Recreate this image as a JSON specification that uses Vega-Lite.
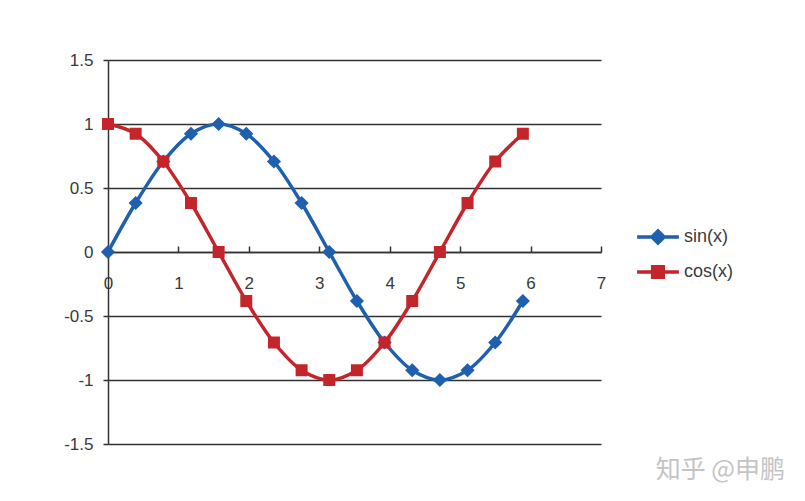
{
  "$schema": "https://vega.github.io/schema/vega-lite/v6.json",
  "width": 493,
  "height": 384,
  "autosize": {"type": "none"},
  "padding": {"left": 108, "top": 60, "right": 204, "bottom": 57},
  "background": "white",
  "title": {
    "text": "知乎 @申鹏",
    "orient": "bottom",
    "anchor": "end",
    "frame": "group",
    "font": "Noto Sans CJK SC",
    "fontSize": 25,
    "fontWeight": "normal",
    "color": "#c4c4c4",
    "dx": 184,
    "offset": 6
  },
  "config": {
    "view": {"stroke": null},
    "locale": {"number": {"decimal": ".", "thousands": ",", "grouping": [3], "currency": ["$", ""], "minus": "-"}},
    "font": "Liberation Sans"
  },
  "data": {
    "values": [
      {"x": 0, "y": 0, "s": "sin(x)"},
      {"x": 0.3927, "y": 0.3827, "s": "sin(x)"},
      {"x": 0.7854, "y": 0.7071, "s": "sin(x)"},
      {"x": 1.1781, "y": 0.9239, "s": "sin(x)"},
      {"x": 1.5708, "y": 1, "s": "sin(x)"},
      {"x": 1.9635, "y": 0.9239, "s": "sin(x)"},
      {"x": 2.3562, "y": 0.7071, "s": "sin(x)"},
      {"x": 2.7489, "y": 0.3827, "s": "sin(x)"},
      {"x": 3.1416, "y": 0, "s": "sin(x)"},
      {"x": 3.5343, "y": -0.3827, "s": "sin(x)"},
      {"x": 3.927, "y": -0.7071, "s": "sin(x)"},
      {"x": 4.3197, "y": -0.9239, "s": "sin(x)"},
      {"x": 4.7124, "y": -1, "s": "sin(x)"},
      {"x": 5.1051, "y": -0.9239, "s": "sin(x)"},
      {"x": 5.4978, "y": -0.7071, "s": "sin(x)"},
      {"x": 5.8905, "y": -0.3827, "s": "sin(x)"},
      {"x": 0, "y": 1, "s": "cos(x)"},
      {"x": 0.3927, "y": 0.9239, "s": "cos(x)"},
      {"x": 0.7854, "y": 0.7071, "s": "cos(x)"},
      {"x": 1.1781, "y": 0.3827, "s": "cos(x)"},
      {"x": 1.5708, "y": 0, "s": "cos(x)"},
      {"x": 1.9635, "y": -0.3827, "s": "cos(x)"},
      {"x": 2.3562, "y": -0.7071, "s": "cos(x)"},
      {"x": 2.7489, "y": -0.9239, "s": "cos(x)"},
      {"x": 3.1416, "y": -1, "s": "cos(x)"},
      {"x": 3.5343, "y": -0.9239, "s": "cos(x)"},
      {"x": 3.927, "y": -0.7071, "s": "cos(x)"},
      {"x": 4.3197, "y": -0.3827, "s": "cos(x)"},
      {"x": 4.7124, "y": 0, "s": "cos(x)"},
      {"x": 5.1051, "y": 0.3827, "s": "cos(x)"},
      {"x": 5.4978, "y": 0.7071, "s": "cos(x)"},
      {"x": 5.8905, "y": 0.9239, "s": "cos(x)"}
    ]
  },
  "encoding": {
    "x": {
      "field": "x", "type": "quantitative",
      "scale": {"domain": [0, 7], "nice": false, "zero": false},
      "axis": {
        "title": null, "orient": "bottom", "offset": -192,
        "values": [0, 1, 2, 3, 4, 5, 6, 7],
        "grid": false, "domainColor": "#333", "domainWidth": 1.5,
        "tickColor": "#333", "tickWidth": 1.5, "tickSize": -6,
        "labelPadding": 29, "labelFontSize": 17, "labelColor": "#3a3a3a",
        "labelFont": "Liberation Sans", "labelFlush": false, "labelOverlap": false
      }
    },
    "y": {
      "field": "y", "type": "quantitative",
      "scale": {"domain": [-1.5, 1.5], "nice": false, "zero": false},
      "axis": {
        "title": null, "values": [-1.5, -1, -0.5, 0, 0.5, 1, 1.5],
        "format": "~g",
        "grid": true, "gridColor": "#333", "gridWidth": 1.5, "gridOpacity": 1,
        "domainColor": "#333", "domainWidth": 1.5,
        "tickColor": "#333", "tickWidth": 1.5, "tickSize": 5,
        "labelPadding": 10, "labelFontSize": 17, "labelColor": "#3a3a3a",
        "labelFont": "Liberation Sans", "labelFlush": false, "labelOverlap": false
      }
    },
    "color": {
      "field": "s", "type": "nominal",
      "scale": {"domain": ["sin(x)", "cos(x)"], "range": ["#1e5fae", "#c4252b"]},
      "legend": {
        "title": null, "orient": "none", "legendX": 529, "legendY": 156,
        "labelFontSize": 18, "labelColor": "#3a3a3a", "labelFont": "Liberation Sans",
        "symbolSize": 1444, "symbolStrokeWidth": 3.5, "labelOffset": 5, "rowPadding": 0,
        "encode": {
          "symbols": {
            "update": {
              "shape": {"signal": "datum.value === 'sin(x)' ? 'M-1.1,0L1.1,0M-0.32,0L0,-0.32L0.32,0L0,0.32Z' : 'M-1.1,0L1.1,0M-0.28,-0.28L0.28,-0.28L0.28,0.28L-0.28,0.28Z'"},
              "fill": {"signal": "datum.value === 'sin(x)' ? '#1e5fae' : '#c4252b'"},
              "fillOpacity": {"value": 1}
            }
          }
        }
      }
    }
  },
  "layer": [
    {
      "mark": {"type": "line", "strokeWidth": 3.5, "interpolate": "catmull-rom"}
    },
    {
      "mark": {"type": "point", "filled": true, "opacity": 1},
      "encoding": {
        "shape": {"condition": {"test": "datum.s === 'sin(x)'", "value": "diamond"}, "value": "square"},
        "size": {"condition": {"test": "datum.s === 'sin(x)'", "value": 200}, "value": 144}
      }
    }
  ]
}
